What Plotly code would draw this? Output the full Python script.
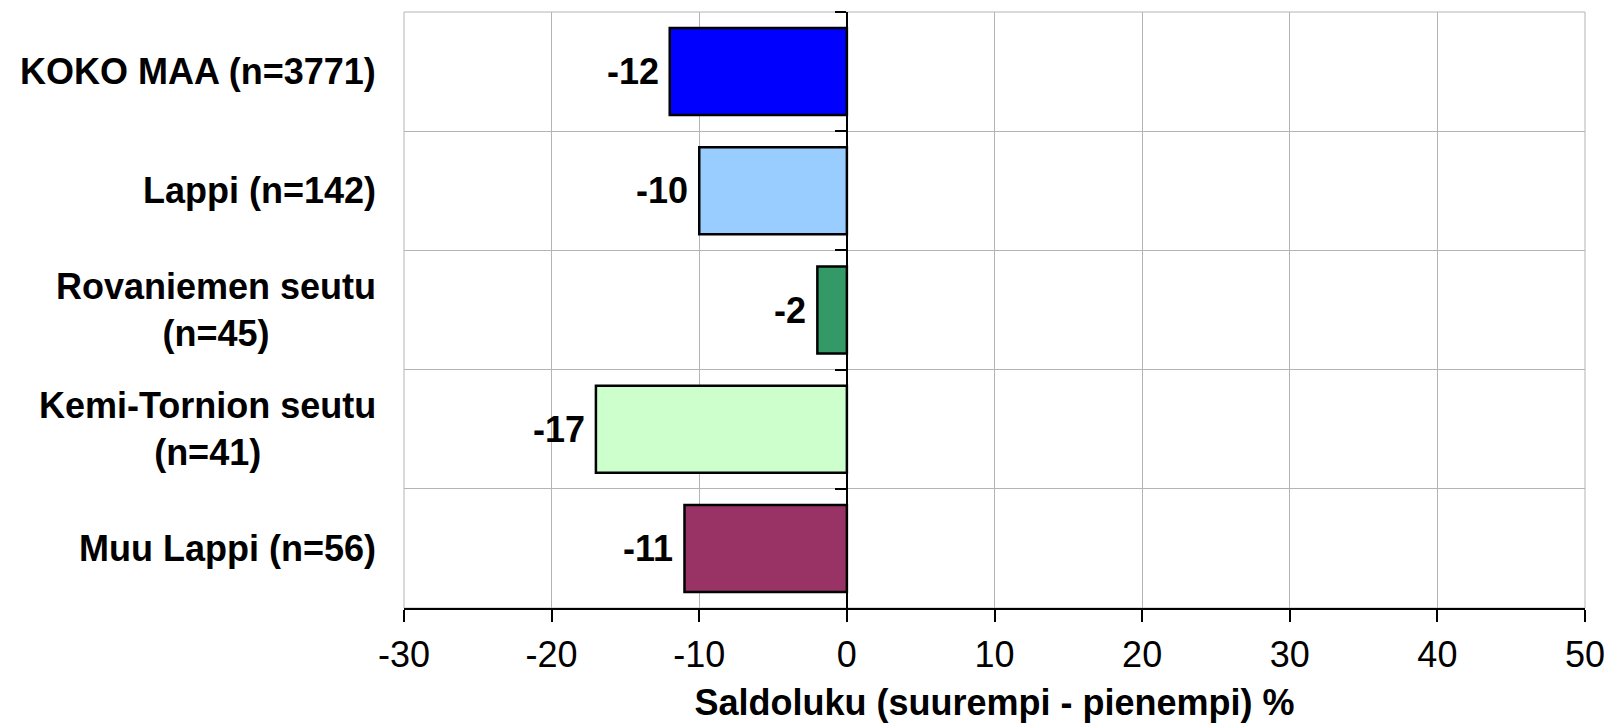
import plotly.graph_objects as go

categories = ["KOKO MAA (n=3771)", "Lappi (n=142)", "Rovaniemen seutu<br>(n=45)",
              "Kemi-Tornion seutu<br>(n=41)", "Muu Lappi (n=56)"]
values = [-12, -10, -2, -17, -11]
colors = ["#0000FF", "#99CCFF", "#339966", "#CCFFCC", "#993366"]
x_ticks = [-30, -20, -10, 0, 10, 20, 30, 40, 50]
x_title = "Saldoluku (suurempi - pienempi) %"

FONT = "Liberation Sans, Arial, sans-serif"
FS = 36
x_min, x_max = -30, 50

fig = go.Figure()
fig.add_trace(go.Bar(
    y=categories, x=values, orientation="h",
    marker=dict(color=colors, line=dict(color="black", width=2.5)),
    width=0.73, hoverinfo="skip",
))
# invisible helper trace for the category axis drawn at x = 0
fig.add_trace(go.Scatter(
    y=categories, x=values, yaxis="y2", mode="markers",
    marker=dict(opacity=0), hoverinfo="skip", showlegend=False,
))

# category labels (centred multi-line blocks, right-aligned to the plot)
for c in categories:
    fig.add_annotation(
        x=0, xref="paper", y=c, yref="y", xanchor="right", xshift=-26,
        text=c, showarrow=False, align="center",
        font=dict(family=FONT, size=FS, color="black", weight="bold"),
    )
# value labels left of each bar
for c, v in zip(categories, values):
    fig.add_annotation(
        x=v, xref="x", y=c, yref="y", xanchor="right", xshift=-9,
        text=str(v), showarrow=False,
        font=dict(family=FONT, size=FS, color="black", weight="bold"),
    )

cat_range = [len(categories) - 0.5, -0.5]
fig.update_layout(
    width=1607, height=723,
    margin=dict(l=404, r=22, t=12, b=115, autoexpand=False),
    paper_bgcolor="white", plot_bgcolor="white",
    showlegend=False,
    xaxis=dict(
        range=[x_min, x_max], tickvals=x_ticks, ticktext=[str(t) for t in x_ticks],
        showgrid=True, gridcolor="#b4b4b4", gridwidth=1, automargin=False,
        zeroline=False, showline=True, linecolor="black", linewidth=1.5,
        ticks="outside", ticklen=12, tickcolor="black", tickwidth=1.5,
        ticklabelstandoff=2, ticklabeloverflow="allow",
        tickfont=dict(family=FONT, size=FS, color="black"),
        title=dict(text=x_title, font=dict(family=FONT, size=FS, color="black", weight="bold"),
                   standoff=26),
        fixedrange=True,
    ),
    yaxis=dict(
        type="category", categoryarray=categories, range=cat_range,
        tickson="boundaries", showgrid=True, gridcolor="#b4b4b4", gridwidth=1,
        showticklabels=False, ticks="", showline=False, zeroline=False,
        fixedrange=True, automargin=False,
    ),
    yaxis2=dict(
        type="category", categoryarray=categories, range=cat_range,
        overlaying="y", anchor="free", side="left",
        position=(0 - x_min) / (x_max - x_min),
        tickson="boundaries", ticks="outside", ticklen=11, tickcolor="black", tickwidth=1.5,
        showticklabels=False, showgrid=False, showline=True, linecolor="black", linewidth=1.5,
        zeroline=False, fixedrange=True, automargin=False,
    ),
    shapes=[dict(type="rect", xref="x domain", yref="y domain", x0=0, x1=1, y0=0, y1=1,
                 line=dict(color="#b4b4b4", width=1), layer="below")],
)

fig.write_html("out.html", config={"displayModeBar": False},
               post_script="document.body.style.margin='0';")
